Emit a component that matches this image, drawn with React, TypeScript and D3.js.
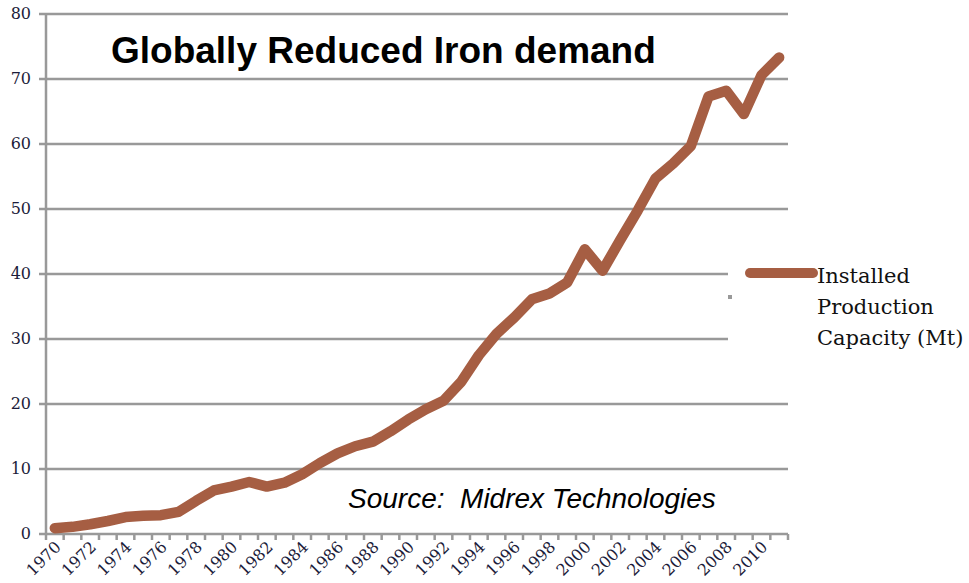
import { useMemo } from 'react';
import * as d3 from 'd3';

const years = d3.range(1970, 2012);
const capacity = [
	0.9, 1.1, 1.5, 2.0, 2.6, 2.8, 2.9, 3.4, 5.1, 6.7, 7.3, 8.0, 7.3, 7.9,
	9.2, 10.9, 12.4, 13.5, 14.2, 15.8, 17.6, 19.2, 20.5, 23.4, 27.5, 30.8,
	33.3, 36.1, 37.0, 38.7, 43.8, 40.5, 45.2, 49.8, 54.7, 57.0, 59.7, 67.3,
	68.2, 64.6, 70.6, 73.3,
];
const yTicks = [0, 10, 20, 30, 40, 50, 60, 70, 80];
const xLabels = years.filter((y) => y % 2 === 0 && y <= 2010);
const legendLines = ['Installed', 'Production', 'Capacity (Mt)'];

const W = 969;
const H = 583;
const left = 46;
const right = 788;
const top = 14;
const bottom = 534;
const grid = '#999999';
const lineColor = '#A65E43';
const serif = "'DejaVu Serif', 'Liberation Serif', serif";
const sans = "'Liberation Sans', Arial, sans-serif";

export default function App() {
	const x = useMemo(
		() => d3.scaleBand<number>().domain(years).range([left, right]),
		[]
	);
	const y = useMemo(
		() => d3.scaleLinear().domain([0, 80]).range([bottom, top]),
		[]
	);

	const line = d3
		.line<number>()
		.x((_, i) => (x(years[i]) as number) + x.bandwidth() / 2)
		.y((d) => y(d));

	const boundaries = d3.range(years.length + 1).map((i) => left + i * x.step());

	return (
		<svg
			width={W}
			height={H}
			style={{ position: 'absolute', left: 0, top: 0 }}>
			<rect width={W} height={H} fill='white' />

			{/* gridlines + y ticks */}
			{yTicks.map((t) => (
				<g key={t}>
					<line
						x1={39}
						x2={right}
						y1={y(t)}
						y2={y(t)}
						stroke={grid}
						strokeWidth={2.5}
					/>
					<text
						x={31}
						y={y(t) + 5}
						textAnchor='end'
						fontFamily={serif}
						fontSize={16}
						fill='#1c1c3a'>
						{t}
					</text>
				</g>
			))}

			{/* y axis */}
			<line
				x1={left}
				x2={left}
				y1={top}
				y2={bottom}
				stroke={grid}
				strokeWidth={2.5}
			/>

			{/* x ticks */}
			{boundaries.map((bx, i) => (
				<line
					key={i}
					x1={bx}
					x2={bx}
					y1={bottom}
					y2={bottom + 6}
					stroke={grid}
					strokeWidth={2.5}
				/>
			))}

			{/* x labels */}
			{xLabels.map((yr) => {
				const cx = (x(yr) as number) + x.bandwidth() / 2 + 7;
				const cy = bottom + 14;
				return (
					<text
						key={yr}
						transform={`translate(${cx},${cy}) rotate(-45)`}
						textAnchor='end'
						fontFamily={serif}
						fontSize={16}
						fill='#1c1c3a'>
						{yr}
					</text>
				);
			})}

			{/* legend box covering grid */}
			<rect x={728} y={258} width={W - 728} height={92} fill='white' />
			<rect x={728} y={295} width={4} height={4} fill={grid} />

			{/* data line */}
			<path
				d={line(capacity) || ''}
				fill='none'
				stroke={lineColor}
				strokeWidth={10.5}
				strokeLinejoin='round'
				strokeLinecap='round'
			/>

			{/* legend */}
			<line
				x1={750}
				x2={813}
				y1={273}
				y2={273}
				stroke={lineColor}
				strokeWidth={10}
				strokeLinecap='round'
			/>
			{legendLines.map((s, i) => (
				<text
					key={s}
					x={817}
					y={283 + i * 31}
					fontFamily={serif}
					fontSize={21}
					fill='#111'>
					{s}
				</text>
			))}

			{/* title */}
			<text
				x={111}
				y={63}
				fontFamily={sans}
				fontWeight='bold'
				fontSize={37}
				fill='black'>
				Globally Reduced Iron demand
			</text>

			{/* source */}
			<text
				x={348}
				y={508}
				fontFamily={sans}
				fontStyle='italic'
				fontSize={28}
				fill='black'>
				Source:{'\u00a0\u00a0'}Midrex Technologies
			</text>
		</svg>
	);
}
